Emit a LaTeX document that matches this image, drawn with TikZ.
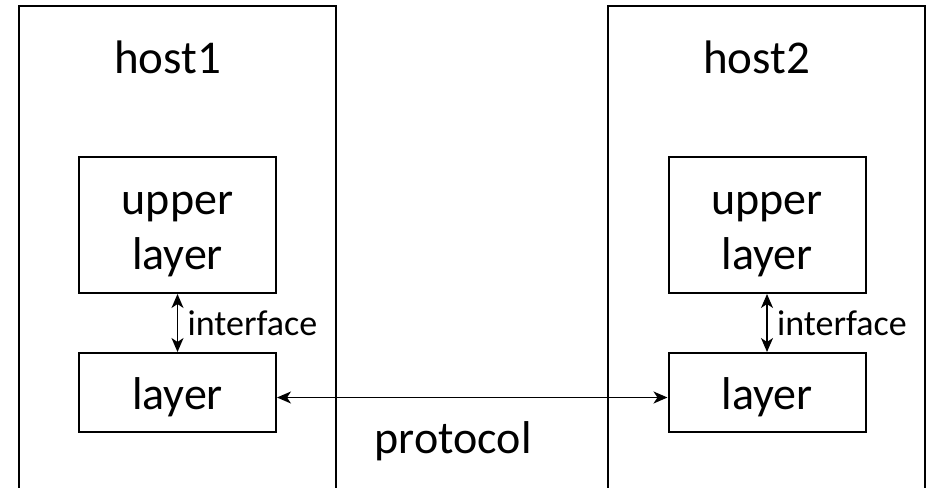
\documentclass[tikz,border=0pt]{standalone}
\usepackage{fontspec}
\setmainfont{Carlito}
\usetikzlibrary{arrows.meta,positioning}
\newcommand{\tstrut}{\rule{0pt}{0.91em}}
\begin{document}
\begin{tikzpicture}[x=1pt,y=-1pt,
		hostbox/.style={draw,line width=2pt,minimum width=317pt,minimum height=514pt,inner sep=0pt},
		layerbox/.style={draw,line width=2pt,minimum width=197pt,inner sep=0pt,align=center,
			font=\fontsize{46}{55}\selectfont},
		hostlabel/.style={anchor=base,inner sep=0pt,font=\fontsize{47}{56}\selectfont},
		link/.style={line width=1.6pt,{Stealth[length=14pt,width=12pt,inset=4pt]}-{Stealth[length=14pt,width=12pt,inset=4pt]}}]
			\useasboundingbox (0,0) rectangle (928,487);
			\clip (0,0) rectangle (928,487);
			% host 1
			\node[hostbox] (h1) at (177,263) {};
			\node[hostlabel] (t1) at ([xshift=150pt,yshift=-69pt]h1.north west) {host1};
			\node[layerbox,minimum height=136pt] (u1) at (177.5,225) {\tstrut upper\\layer};
			\node[layerbox,minimum height=79pt] (l1) at (177.5,392.5) {\tstrut layer};
			% host 2
			\node[hostbox] (h2) at (766,263) {};
			\node[hostlabel] (t2) at ([xshift=150pt,yshift=-69pt]h2.north west) {host2};
			\node[layerbox,minimum height=136pt] (u2) at (767,225) {\tstrut upper\\layer};
			\node[layerbox,minimum height=79pt] (l2) at (767,392.5) {\tstrut layer};
			% links
			\draw[link] (u1) -- node[right=6pt,font=\fontsize{36}{43}\selectfont]{interface} (l1);
			\draw[link] (u2) -- node[right=6pt,font=\fontsize{36}{43}\selectfont]{interface} (l2);
			\draw[link] ([yshift=-5pt]l1.east) -- node[anchor=base,inner sep=0pt,yshift=-56pt,xshift=-19pt,
				font=\fontsize{46}{55}\selectfont]{protocol} ([yshift=-5pt]l2.west);
		\end{tikzpicture}
\end{document}
